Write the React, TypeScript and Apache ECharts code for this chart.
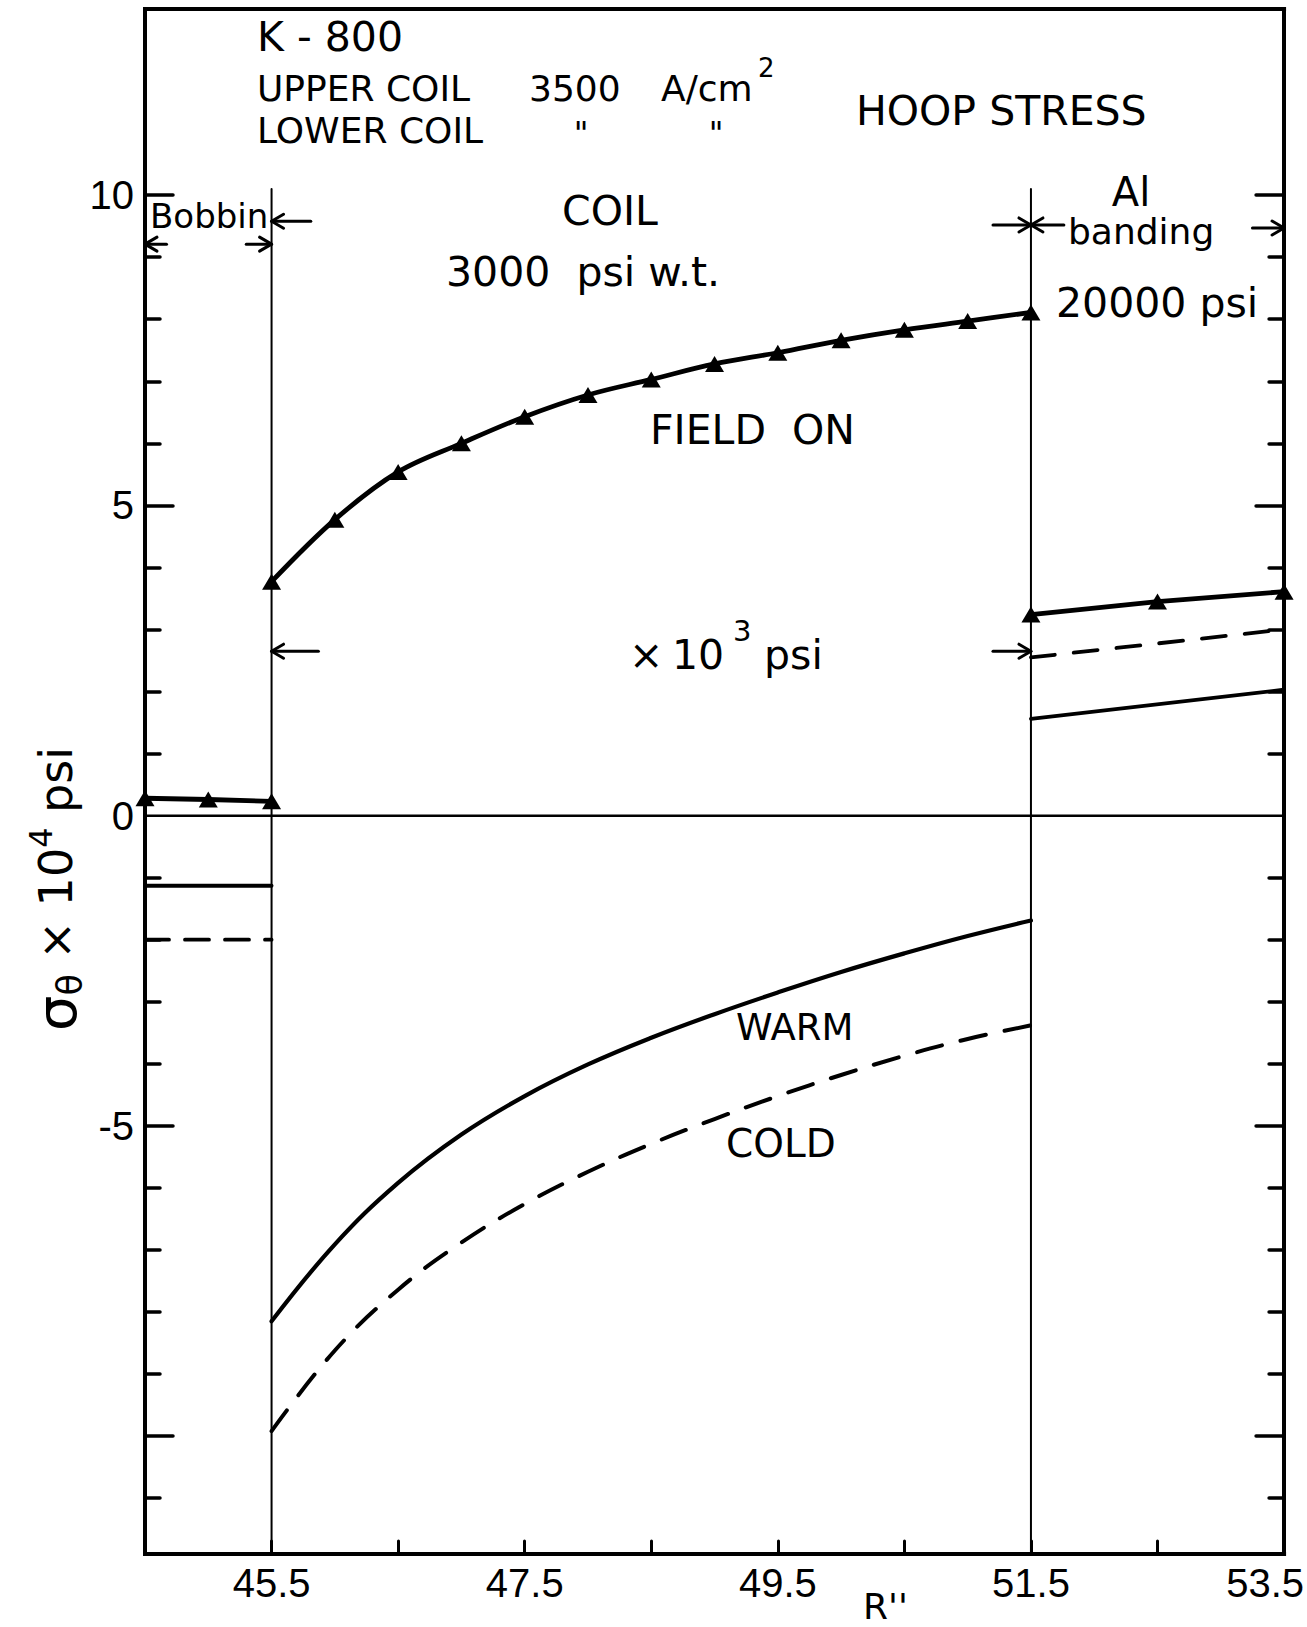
import React, { useEffect, useRef } from "react";
import * as echarts from "echarts";

// ---- axis extents ----
const X_MIN = 44.5;
const X_MAX = 53.5;
const Y_MIN = -11.9;
const Y_MAX = 13;

// ---- data (R in inches, hoop stress in 10^4 psi) ----
const bobbinR = [44.5, 45.0, 45.5];
const bobbinFieldOn = [0.28, 0.26, 0.23];
const bobbinEdgeR = [44.5, 45.5];
const bobbinWarm = [-1.13, -1.13];
const bobbinCold = [-2.0, -2.0];

const coilR = [45.5, 46.0, 46.5, 47.0, 47.5, 48.0, 48.5, 49.0, 49.5, 50.0, 50.5, 51.0, 51.5];
const coilFieldOn = [3.77, 4.77, 5.54, 6.0, 6.43, 6.78, 7.03, 7.28, 7.46, 7.66, 7.83, 7.97, 8.11];
const coilWarm = [-8.15, -6.91, -5.92, -5.14, -4.52, -4.01, -3.58, -3.2, -2.85, -2.52, -2.22, -1.94, -1.69];
const coilCold = [-9.92, -8.62, -7.64, -6.88, -6.26, -5.74, -5.29, -4.89, -4.52, -4.18, -3.87, -3.6, -3.38];

const bandingR = [51.5, 52.5, 53.5];
const bandingFieldOn = [3.24, 3.45, 3.61];
const bandingEdgeR = [51.5, 53.5];
const bandingWarm = [1.56, 2.03];
const bandingCold = [2.55, 3.0];

const boundaryR = [45.5, 51.5];
const boundaryTop = 10.1;

// ---- ticks / labels ----
const xTicks = [45.5, 46.5, 47.5, 48.5, 49.5, 50.5, 51.5, 52.5];
const xLabels = [45.5, 47.5, 49.5, 51.5, 53.5];
const yMinorTicks = [-11, -9, -8, -7, -6, -4, -3, -2, -1, 1, 2, 3, 4, 6, 7, 8, 9];
const yMajorTicks = [-10, -5, 5, 10];
const yLabels = [-5, 0, 5, 10];

// ---- dimension arrows (annotation): tail R, tip R, stress level ----
const arrowTail = [44.67, 45.3, 45.81, 51.2, 51.76, 53.25, 45.87, 51.2];
const arrowTip = [44.5, 45.5, 45.5, 51.5, 51.5, 53.5, 45.5, 51.5];
const arrowLevel = [9.21, 9.21, 9.58, 9.52, 9.52, 9.47, 2.65, 2.65];

const AXIS_FONT = "Liberation Sans";
const TEXT_FONT = "DejaVu Sans";
const INK = "#000";

const pairs = (xs: number[], ys: number[]) => xs.map((x, i) => [x, ys[i]]);

function yAxisDef(position: string, ticks: number[], len: number, labels: number[] | null) {
  return {
    type: "value",
    gridIndex: 0,
    position,
    min: Y_MIN,
    max: Y_MAX,
    axisLine: { show: true, onZero: false, lineStyle: { color: INK, width: 4, cap: "square" } },
    axisTick: {
      show: true,
      inside: true,
      length: len,
      customValues: ticks,
      lineStyle: { color: INK, width: 3.5, cap: "round" },
    },
    axisLabel: labels
      ? {
          show: true,
          customValues: labels,
          fontSize: 40,
          fontFamily: AXIS_FONT,
          color: INK,
          margin: 11,
        }
      : { show: false },
    splitLine: { show: false },
  };
}

function plain(data: number[][], width: number, extra: any = {}) {
  return {
    type: "line",
    xAxisIndex: 0,
    yAxisIndex: 0,
    data,
    symbol: "none",
    showSymbol: false,
    silent: true,
    lineStyle: { color: INK, width, cap: "round", ...(extra.lineStyle || {}) },
    smooth: extra.smooth || false,
    clip: true,
    z: 2,
  };
}

function fieldOn(xs: number[], ys: number[], smooth: number | boolean) {
  return {
    type: "line",
    xAxisIndex: 0,
    yAxisIndex: 0,
    data: pairs(xs, ys),
    symbol: "triangle",
    symbolSize: [19, 16],
    showSymbol: true,
    silent: true,
    smooth,
    clip: false,
    itemStyle: { color: INK },
    lineStyle: { color: INK, width: 4.8 },
    z: 5,
  };
}

export default function App() {
  const ref = useRef<HTMLDivElement>(null);

  useEffect(() => {
    const el = ref.current;
    if (!el) return;
    const chart = echarts.init(el, null, { renderer: "svg" });

    const option: any = {
      animation: false,
      backgroundColor: "#fff",
      grid: { left: 145, right: 20, top: 9, bottom: 73, containLabel: false },
      xAxis: [
        {
          type: "value",
          position: "bottom",
          min: X_MIN,
          max: X_MAX,
          axisLine: { show: true, onZero: false, lineStyle: { color: INK, width: 4, cap: "square" } },
          axisTick: {
            show: true,
            inside: true,
            length: 13,
            customValues: xTicks,
            lineStyle: { color: INK, width: 3, cap: "round" },
          },
          axisLabel: {
            show: true,
            customValues: xLabels,
            showMinLabel: true,
            showMaxLabel: true,
            fontSize: 40,
            fontFamily: AXIS_FONT,
            color: INK,
            margin: 9,
            formatter: (v: number) => (v === X_MAX ? "{r|" + v.toFixed(1) + "}" : v.toFixed(1)),
            rich: {
              r: { fontSize: 40, fontFamily: AXIS_FONT, color: INK, padding: [0, 38, 0, 0] },
            },
          },
          splitLine: { show: false },
        },
        {
          type: "value",
          position: "top",
          min: X_MIN,
          max: X_MAX,
          axisLine: { show: true, onZero: false, lineStyle: { color: INK, width: 4, cap: "square" } },
          axisTick: { show: false },
          axisLabel: { show: false },
          splitLine: { show: false },
        },
      ],
      yAxis: [
        yAxisDef("left", yMinorTicks, 15, yLabels),
        yAxisDef("left", yMajorTicks, 28, null),
        yAxisDef("right", yMinorTicks, 15, null),
        yAxisDef("right", yMajorTicks, 28, null),
      ],
      series: [
        // zero line
        plain([[X_MIN, 0], [X_MAX, 0]], 2.5),
        // region boundaries
        ...boundaryR.map((r) => plain([[r, boundaryTop], [r, Y_MIN]], 2)),
        // warm (solid)
        plain(pairs(bobbinEdgeR, bobbinWarm), 3.8),
        plain(pairs(coilR, coilWarm), 4.2, { smooth: 0.4 }),
        plain(pairs(bandingEdgeR, bandingWarm), 3.8),
        // cold (dashed)
        plain(pairs(bobbinEdgeR, bobbinCold), 3.8, { lineStyle: { type: [24, 16] } }),
        plain(pairs(coilR, coilCold), 4, { smooth: 0.4, lineStyle: { type: [26, 19] } }),
        plain(pairs(bandingEdgeR, bandingCold), 3.8, { lineStyle: { type: [24, 19] } }),
        // field on (triangles)
        fieldOn(bobbinR, bobbinFieldOn, false),
        fieldOn(coilR, coilFieldOn, 0.35),
        fieldOn(bandingR, bandingFieldOn, false),
      ],
    };

    chart.setOption(option);

    const px = (x: number, y: number) =>
      chart.convertToPixel({ seriesIndex: 0 }, [x, y]) as unknown as number[];

    const txt = (
      text: string,
      x: number,
      y: number,
      fontSize: number,
      align: string = "left",
      verticalAlign: string = "middle"
    ) => ({
      type: "text",
      x,
      y,
      silent: true,
      z: 20,
      style: {
        text,
        fontSize,
        fontFamily: TEXT_FONT,
        fill: INK,
        align,
        verticalAlign,
        lineHeight: Math.round(fontSize * 0.82),
      },
    });

    const graphics: any[] = [
      txt("K - 800", 257, 37, 41),
      txt("UPPER COIL", 257, 88, 36),
      txt("3500", 529, 88, 36),
      txt("A/cm", 661, 88, 36),
      txt("2", 758, 68, 26),
      txt("LOWER COIL", 257, 130, 36),
      txt('"', 581, 133, 32, "center"),
      txt('"', 716, 133, 32, "center"),
      txt("HOOP STRESS", 856, 111, 41),
      txt("Bobbin", 150, 216, 34),
      txt("COIL", 610, 211, 41, "center"),
      txt("3000  psi w.t.", 446, 272, 41),
      txt("Al", 1131, 192, 40, "center"),
      txt("banding", 1068, 231, 36),
      txt("20000 psi", 1056, 303, 41),
      txt("FIELD  ON", 650, 430, 41),
      txt("\u00d7", 629, 655, 41),
      txt("10", 672, 655, 41),
      txt("3", 733, 631, 29),
      txt("psi", 764, 655, 41),
      txt("WARM", 736, 1027, 37),
      txt("COLD", 726, 1143, 39),
      txt("R''", 863, 1591, 36, "left", "top"),
      {
        type: "text",
        x: 56,
        y: 889,
        rotation: Math.PI / 2,
        silent: true,
        z: 20,
        style: {
          text: "{s|\u03c3}{b|\u03b8}{a| \u00d7 10}{c|4}{a| psi}",
          align: "center",
          verticalAlign: "middle",
          fill: INK,
          rich: {
            s: { fontSize: 56, fontFamily: TEXT_FONT, fill: INK, lineHeight: 62, verticalAlign: "middle" },
            a: { fontSize: 46, fontFamily: TEXT_FONT, fill: INK, lineHeight: 62, verticalAlign: "middle" },
            b: { fontSize: 35, fontFamily: TEXT_FONT, fill: INK, lineHeight: 62, verticalAlign: "bottom" },
            c: { fontSize: 32, fontFamily: TEXT_FONT, fill: INK, lineHeight: 62, verticalAlign: "top" },
          },
        },
      },
    ];

    arrowTail.forEach((tailR, i) => {
      const tail = px(tailR, arrowLevel[i]);
      const tip = px(arrowTip[i], arrowLevel[i]);
      const d = tip[0] > tail[0] ? 1 : -1;
      graphics.push({
        type: "polyline",
        silent: true,
        z: 20,
        shape: { points: [tail, tip] },
        style: { stroke: INK, lineWidth: 3, fill: null, lineCap: "round" },
      });
      graphics.push({
        type: "polyline",
        silent: true,
        z: 20,
        shape: {
          points: [
            [tip[0] - d * 12, tip[1] - 7],
            [tip[0], tip[1]],
            [tip[0] - d * 12, tip[1] + 7],
          ],
        },
        style: { stroke: INK, lineWidth: 3, fill: null, lineCap: "round", lineJoin: "round" },
      });
    });

    chart.setOption({ graphic: graphics });

    return () => {
      chart.dispose();
    };
  }, []);

  return (
    <div
      ref={ref}
      style={{ position: "absolute", left: 0, top: 0, width: 1307, height: 1627, background: "#fff" }}
    />
  );
}
